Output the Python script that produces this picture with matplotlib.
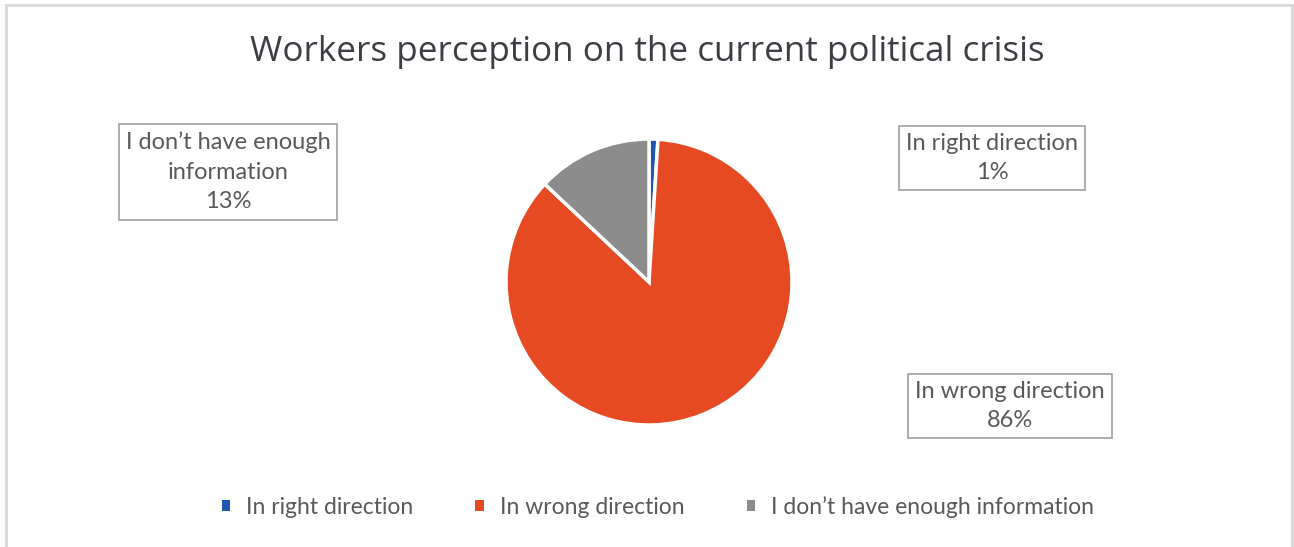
import matplotlib

matplotlib.use("Agg")
import matplotlib.pyplot as plt
from matplotlib.lines import Line2D
from matplotlib.patches import Patch

categories = ["In right direction", "In wrong direction", "I don\u2019t have enough information"]
box_labels = ["In right direction", "In wrong direction", "I don\u2019t have enough\ninformation"]
shares = [1, 86, 13]
colors = ["#1F57B0", "#E64A22", "#8C8C8C"]

TITLE = "Workers perception on the current political crisis"
TEXT = "#595959"
EDGE = "#A6A6A6"

W, H = 1294, 547
fig = plt.figure(figsize=(W / 100, H / 100), dpi=100, facecolor="white")

# outer chart frame (open at the bottom)
frame = dict(color="#D9D9D9", lw=2.0, transform=fig.transFigure)
fig.add_artist(Line2D([6 / W, 6 / W], [0, 1 - 5 / H], **frame))
fig.add_artist(Line2D([6 / W, 1292 / W], [1 - 5 / H, 1 - 5 / H], **frame))
fig.add_artist(Line2D([1292 / W, 1292 / W], [0, 1 - 5 / H], **frame))

fig.text(647 / W, 1 - 52 / H, TITLE, ha="center", va="center",
         fontsize=25.2, color="#3B3F44", family="Open Sans")

# pie: centre (649, 282) px, radius 143 px
cx, cy, r = 649, 282, 143
ax = fig.add_axes([(cx - r) / W, 1 - (cy + r) / H, 2 * r / W, 2 * r / H])
wedges, _ = ax.pie(shares, colors=colors, startangle=90, counterclock=False,
                   radius=1.0, wedgeprops=dict(edgecolor="white", linewidth=2.5))
ax.set_xlim(-1, 1)
ax.set_ylim(-1, 1)
ax.set_aspect("equal")
ax.axis("off")

# data label boxes
label_pos = [(992, 158), (1010, 406), (228, 172)]
box = dict(boxstyle="square,pad=0.3", facecolor="white", edgecolor=EDGE, lw=1.3)
for lab, val, (x, y) in zip(box_labels, shares, label_pos):
    fig.text(x / W, 1 - y / H, f"{lab}\n{val}%", ha="center", va="center",
             fontsize=17, color=TEXT, family="Lato", linespacing=1.5, bbox=box)

# small square swatches, no white wedge edge
handles = [Patch(facecolor=w.get_facecolor(), edgecolor="none") for w in wedges]
fig.legend(handles, categories, loc="center", bbox_to_anchor=(658 / W, 1 - 507 / H),
           ncol=3, frameon=False, labelcolor=TEXT,
           prop=dict(family="Lato", size=16.5),
           handlelength=0.38, handleheight=0.38, handletextpad=0.7, columnspacing=2.7)

fig.savefig("out.png", dpi=100, facecolor="white")
